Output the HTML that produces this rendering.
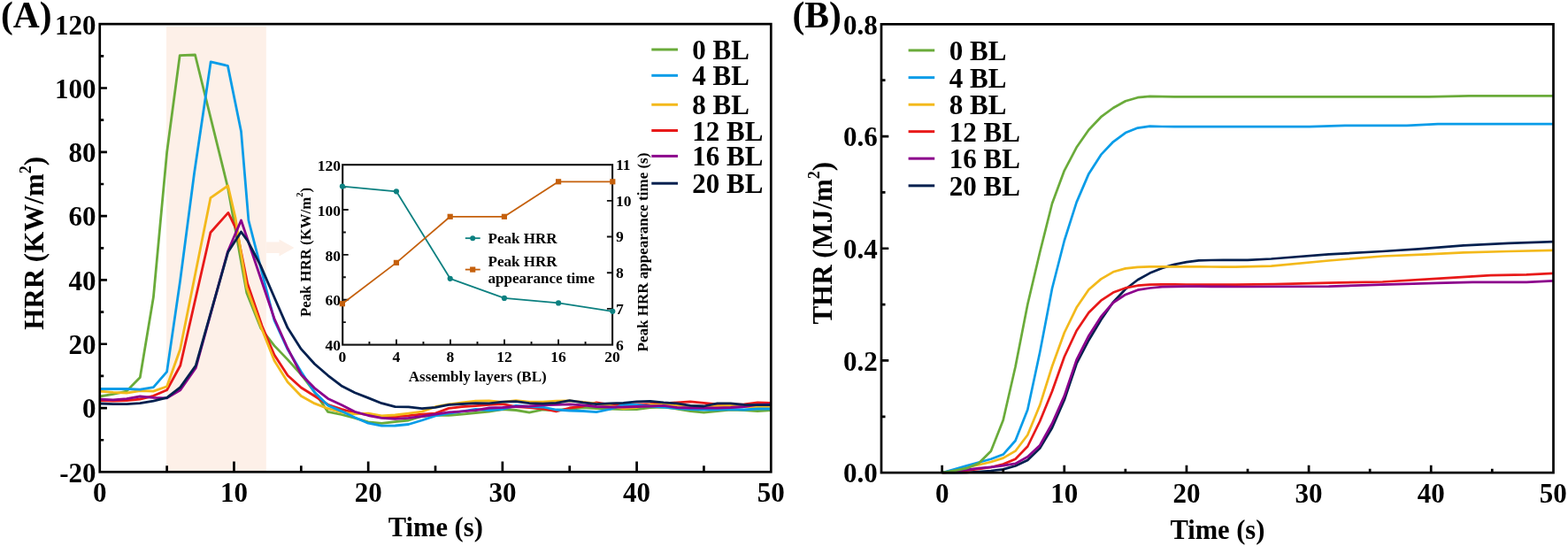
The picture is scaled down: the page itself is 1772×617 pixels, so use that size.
<!DOCTYPE html>
<html><head><meta charset="utf-8"><style>
html,body{margin:0;padding:0;background:#fff;}
svg{display:block;}
</style></head><body>
<svg width="1772" height="617" viewBox="0 0 1772 617" font-family='"Liberation Serif", "Times New Roman", serif' font-weight="bold">
<rect width="1772" height="617" fill="#fff"/>
<rect x="188" y="29.5" width="112.8" height="503.9" fill="#FDF0E8"/>
<polygon points="300.8,273.5 315.5,273.5 315.5,270.5 332.5,280 315.5,289.5 315.5,286 300.8,286" fill="#FDF0E8"/>
<polyline points="112.8,448.0 127.9,445.3 143.1,442.1 158.3,426.6 173.4,335.8 188.6,172.3 203.2,62.6 220.5,62.0 257.5,212.0 278.8,331.0 294.8,371.0 310.0,390.6 325.1,406.4 340.3,423.2 355.5,443.2 370.6,465.4 385.8,468.5 401.0,472.4 416.1,476.9 431.3,478.4 446.5,476.7 461.7,475.0 476.8,470.5 492.0,469.0 507.2,469.3 522.3,468.2 537.5,466.5 552.7,465.0 567.9,462.5 583.0,463.5 598.2,466.1 613.4,463.0 628.5,463.5 643.7,462.5 658.9,460.5 674.0,461.5 689.2,462.0 704.4,462.5 719.5,462.5 734.7,460.5 749.9,460.0 765.1,462.0 780.2,464.5 795.4,466.1 810.6,464.5 825.7,463.0 840.9,463.5 856.1,464.5 871.3,463.5" fill="none" stroke="#6AAB3A" stroke-width="2.8" stroke-linejoin="round"/>
<polyline points="112.8,452.5 127.9,453.2 143.1,452.5 158.3,451.2 173.4,447.3 188.6,440.8 203.8,413.0 237.9,262.7 257.9,240.4 267.5,260.0 279.7,320.5 296.0,368.0 310.0,401.1 325.1,424.3 340.3,438.0 355.5,447.5 370.6,457.2 385.8,462.4 401.0,466.6 416.1,468.5 431.3,471.0 446.5,470.8 461.7,469.7 476.8,468.2 492.0,467.1 507.2,461.4 522.3,459.7 537.5,458.6 552.7,457.4 567.9,456.6 583.0,459.5 598.2,460.5 613.4,462.0 628.5,465.0 643.7,461.0 658.9,459.0 674.0,454.9 689.2,457.4 704.4,457.6 719.5,456.9 734.7,456.6 749.9,455.9 765.1,454.9 780.2,453.9 795.4,455.4 810.6,456.9 825.7,457.4 840.9,456.9 856.1,454.9 871.3,455.4" fill="none" stroke="#E81919" stroke-width="2.8" stroke-linejoin="round"/>
<polyline points="112.8,442.1 127.9,443.4 143.1,444.1 158.3,441.5 173.4,442.1 188.6,436.7 203.6,394.8 237.9,223.7 257.6,209.8 266.0,246.0 278.6,324.5 294.8,368.9 310.0,407.4 325.1,431.7 340.3,447.5 355.5,455.9 370.6,461.7 385.8,465.9 401.0,467.9 416.1,467.2 431.3,469.9 446.5,469.0 461.7,467.1 476.8,465.1 492.0,459.7 507.2,456.9 522.3,454.9 537.5,453.1 552.7,452.9 567.9,454.4 583.0,452.6 598.2,454.2 613.4,454.2 628.5,453.2 643.7,452.9 658.9,454.4 674.0,456.2 689.2,458.4 704.4,461.8 719.5,460.5 734.7,457.5 749.9,457.5 765.1,458.0 780.2,458.6 795.4,459.5 810.6,459.0 825.7,458.4 840.9,459.5 856.1,460.0 871.3,460.0" fill="none" stroke="#F3B91B" stroke-width="2.8" stroke-linejoin="round"/>
<polyline points="112.8,439.5 127.9,439.5 143.1,439.5 158.3,440.2 173.4,437.6 188.6,420.1 203.5,318.0 219.5,196.0 238.2,69.8 257.4,74.4 272.5,148.5 280.9,249.0 310.0,362.0 325.1,394.8 340.3,420.0 355.5,443.2 370.6,458.1 385.8,464.6 401.0,471.8 416.1,478.2 431.3,481.2 446.5,481.0 461.7,479.5 476.8,475.0 492.0,469.9 507.2,467.1 522.3,464.8 537.5,462.5 552.7,463.5 567.9,462.5 583.0,458.4 598.2,459.5 613.4,460.0 628.5,463.0 643.7,464.0 658.9,464.5 674.0,465.6 689.2,462.5 704.4,457.4 719.5,457.4 734.7,459.0 749.9,460.0 765.1,461.5 780.2,462.5 795.4,463.0 810.6,463.0 825.7,462.5 840.9,463.0 856.1,462.0 871.3,462.0" fill="none" stroke="#089CE8" stroke-width="2.8" stroke-linejoin="round"/>
<polyline points="112.8,451.2 127.9,451.9 143.1,450.6 158.3,448.0 173.4,449.3 188.6,449.9 203.8,440.8 221.3,415.6 257.6,283.7 272.5,249.0 310.0,360.0 325.1,393.7 340.3,423.2 355.5,438.6 370.6,450.4 385.8,457.5 401.0,465.3 416.1,469.5 431.3,472.4 446.5,473.3 461.7,472.4 476.8,470.5 492.0,468.2 507.2,465.9 522.3,464.8 537.5,463.7 552.7,461.0 567.9,460.5 583.0,459.5 598.2,459.0 613.4,457.9 628.5,457.4 643.7,456.9 658.9,457.9 674.0,459.5 689.2,460.0 704.4,460.2 719.5,459.5 734.7,459.0 749.9,458.4 765.1,460.5 780.2,461.0 795.4,461.0 810.6,461.0 825.7,460.5 840.9,459.5 856.1,457.4 871.3,456.9" fill="none" stroke="#8C008C" stroke-width="2.8" stroke-linejoin="round"/>
<polyline points="112.8,456.0 127.9,456.7 143.1,456.7 158.3,455.7 173.4,453.2 188.6,449.3 203.8,437.6 221.3,413.0 257.6,285.0 272.5,262.0 279.7,271.8 294.5,300.1 310.0,336.0 325.1,370.6 340.3,394.4 355.5,411.2 370.6,424.3 385.8,435.9 401.0,443.7 416.1,449.6 431.3,455.7 446.5,459.7 461.7,459.9 476.8,461.7 492.0,460.3 507.2,457.4 522.3,456.5 537.5,455.7 552.7,455.9 567.9,454.2 583.0,453.6 598.2,455.6 613.4,456.2 628.5,455.4 643.7,452.6 658.9,454.9 674.0,456.6 689.2,455.9 704.4,455.4 719.5,453.9 734.7,453.4 749.9,454.9 765.1,455.9 780.2,458.4 795.4,459.0 810.6,455.9 825.7,455.9 840.9,457.4 856.1,457.6 871.3,457.6" fill="none" stroke="#03204F" stroke-width="2.8" stroke-linejoin="round"/>
<rect x="112.75" y="27.15" width="758.55" height="506.15" fill="none" stroke="#000" stroke-width="2.7"/>
<path d="M112.75,497.24h4.5 M112.75,461.09h8.2 M112.75,424.93h4.5 M112.75,388.77h8.2 M112.75,352.61h4.5 M112.75,316.46h8.2 M112.75,280.30h4.5 M112.75,244.14h8.2 M112.75,207.99h4.5 M112.75,171.83h8.2 M112.75,135.67h4.5 M112.75,99.51h8.2 M112.75,63.36h4.5 M188.61,533.3v-7 M264.46,533.3v-11.8 M340.31,533.3v-7 M416.17,533.3v-11.8 M492.02,533.3v-7 M567.88,533.3v-11.8 M643.74,533.3v-7 M719.59,533.3v-11.8 M795.45,533.3v-7" stroke="#000" stroke-width="2.7" fill="none"/>
<text x="108.6" y="544.70" font-size="31" text-anchor="end" >-20</text>
<text x="108.6" y="472.39" font-size="31" text-anchor="end" >0</text>
<text x="108.6" y="400.07" font-size="31" text-anchor="end" >20</text>
<text x="108.6" y="327.76" font-size="31" text-anchor="end" >40</text>
<text x="108.6" y="255.44" font-size="31" text-anchor="end" >60</text>
<text x="108.6" y="183.13" font-size="31" text-anchor="end" >80</text>
<text x="108.6" y="110.81" font-size="31" text-anchor="end" >100</text>
<text x="108.6" y="38.50" font-size="31" text-anchor="end" >120</text>
<text x="112.75" y="566.7" font-size="31" text-anchor="middle" >0</text>
<text x="264.46" y="566.7" font-size="31" text-anchor="middle" >10</text>
<text x="416.17" y="566.7" font-size="31" text-anchor="middle" >20</text>
<text x="567.88" y="566.7" font-size="31" text-anchor="middle" >30</text>
<text x="719.59" y="566.7" font-size="31" text-anchor="middle" >40</text>
<text x="871.30" y="566.7" font-size="31" text-anchor="middle" >50</text>
<text x="492.3" y="606.4" font-size="30.5" text-anchor="middle" >Time (s)</text>
<text transform="translate(49.2,274.85) rotate(-90)" font-size="31" text-anchor="middle">HRR (KW/m<tspan dy="-14.5" font-size="18">2</tspan><tspan dy="14.5">)</tspan></text>
<text x="1.0" y="30.6" font-size="41.5" text-anchor="start" >(A)</text>
<polyline points="1064.7,534.2 1078.5,534.1 1092.3,533.8 1106.1,533.0 1119.9,532.0 1133.7,530.4 1147.5,526.5 1161.3,520.0 1175.2,506.5 1189.0,483.5 1202.8,452.0 1216.6,411.0 1230.4,384.5 1244.2,361.5 1258.0,341.5 1271.9,326.8 1285.7,316.3 1299.5,308.6 1313.3,302.9 1327.1,298.9 1340.9,296.1 1354.7,294.4 1368.6,294.0 1382.4,293.8 1396.2,293.8 1410.0,293.9 1436.6,292.5 1501.6,287.4 1562.5,284.0 1603.2,281.3 1654.0,277.3 1704.7,274.8 1755.5,273.2" fill="none" stroke="#03204F" stroke-width="2.7" stroke-linejoin="round"/>
<polyline points="1064.7,534.2 1078.5,532.9 1092.3,531.6 1106.1,530.0 1119.9,528.0 1133.7,524.5 1147.5,518.7 1161.3,504.5 1175.2,476.0 1189.0,442.2 1202.8,403.3 1216.6,373.7 1230.4,353.3 1244.2,339.7 1258.0,330.6 1271.9,325.4 1285.7,322.7 1299.5,321.6 1313.3,321.4 1327.1,321.4 1340.9,321.5 1354.7,321.6 1368.6,321.7 1382.4,321.7 1396.2,321.7 1440.6,321.2 1501.6,319.6 1562.5,318.5 1623.5,314.9 1684.4,311.2 1725.1,310.4 1755.5,308.8" fill="none" stroke="#E81919" stroke-width="2.7" stroke-linejoin="round"/>
<polyline points="1064.7,534.2 1078.5,532.5 1092.3,530.8 1106.1,529.2 1119.9,527.8 1133.7,526.2 1147.5,523.9 1161.3,516.2 1175.2,503.2 1189.0,478.5 1202.8,447.4 1216.6,406.6 1230.4,379.4 1244.2,357.9 1258.0,342.0 1271.9,332.9 1285.7,327.7 1299.5,325.5 1313.3,324.2 1327.1,323.8 1340.9,323.7 1354.7,323.7 1368.6,323.8 1382.4,323.9 1396.2,324.0 1410.0,324.0 1501.6,323.6 1562.5,321.6 1623.5,319.9 1664.1,318.9 1725.1,318.9 1755.5,317.3" fill="none" stroke="#8C008C" stroke-width="2.7" stroke-linejoin="round"/>
<polyline points="1064.7,534.2 1078.5,531.2 1092.3,528.2 1106.1,525.2 1119.9,522.0 1133.7,517.6 1147.5,509.7 1161.3,491.5 1175.2,457.8 1189.0,414.0 1202.8,376.0 1216.6,347.6 1230.4,327.2 1244.2,315.4 1258.0,307.3 1271.9,303.4 1285.7,301.8 1299.5,301.4 1313.3,301.3 1327.1,301.3 1340.9,301.3 1354.7,301.4 1368.6,301.5 1382.4,301.6 1396.2,301.6 1436.6,300.6 1501.6,294.5 1562.5,289.5 1613.3,287.4 1654.0,285.4 1704.7,284.0 1755.5,282.8" fill="none" stroke="#F3B91B" stroke-width="2.7" stroke-linejoin="round"/>
<polyline points="1064.7,534.2 1078.5,530.3 1092.3,526.4 1106.1,522.5 1119.9,518.8 1133.7,513.6 1147.5,498.0 1161.3,463.0 1175.2,398.0 1189.0,326.0 1202.8,272.0 1216.6,228.6 1230.4,196.4 1244.2,174.9 1258.0,160.3 1271.9,150.1 1285.7,144.6 1299.5,142.7 1313.3,143.0 1327.1,143.2 1480.0,143.2 1520.0,141.8 1590.0,141.8 1625.0,140.2 1755.5,140.2" fill="none" stroke="#089CE8" stroke-width="2.7" stroke-linejoin="round"/>
<polyline points="1064.7,534.2 1078.5,531.8 1092.3,529.2 1106.1,523.5 1119.9,509.7 1133.7,474.7 1147.5,414.5 1161.3,344.0 1175.2,285.0 1189.0,230.0 1202.8,192.8 1216.6,166.6 1230.4,146.8 1244.2,132.2 1258.0,122.0 1271.9,114.3 1285.7,110.2 1299.5,108.8 1313.3,109.2 1327.1,109.3 1400.0,109.3 1615.0,109.3 1660.0,108.3 1755.5,108.3" fill="none" stroke="#6AAB3A" stroke-width="2.7" stroke-linejoin="round"/>
<line x1="736.3" y1="56.00" x2="766" y2="56.00" stroke="#6AAB3A" stroke-width="3"/>
<text x="782.3" y="67.00" font-size="31" text-anchor="start" >0 BL</text>
<line x1="736.3" y1="85.30" x2="766" y2="85.30" stroke="#089CE8" stroke-width="3"/>
<text x="782.3" y="96.30" font-size="31" text-anchor="start" >4 BL</text>
<line x1="736.3" y1="118.25" x2="766" y2="118.25" stroke="#F3B91B" stroke-width="3"/>
<text x="782.3" y="129.25" font-size="31" text-anchor="start" >8 BL</text>
<line x1="736.3" y1="147.50" x2="766" y2="147.50" stroke="#E81919" stroke-width="3"/>
<text x="782.3" y="158.50" font-size="31" text-anchor="start" >12 BL</text>
<line x1="736.3" y1="176.40" x2="766" y2="176.40" stroke="#8C008C" stroke-width="3"/>
<text x="782.3" y="187.40" font-size="31" text-anchor="start" >16 BL</text>
<line x1="736.3" y1="207.20" x2="766" y2="207.20" stroke="#03204F" stroke-width="3"/>
<text x="782.3" y="218.20" font-size="31" text-anchor="start" >20 BL</text>
<rect x="387.2" y="186.2" width="304.90" height="203.40" fill="none" stroke="#111" stroke-width="2.1"/>
<path d="M387.2,364.17h3.6 M387.2,338.75h6.5 M387.2,313.32h3.6 M387.2,287.90h6.5 M387.2,262.48h3.6 M387.2,237.05h6.5 M387.2,211.62h3.6 M692.1,348.92h-6.2 M692.1,308.24h-6.2 M692.1,267.56h-6.2 M692.1,226.88h-6.2 M417.42,389.6v-3.6 M447.94,389.6v-6.2 M478.46,389.6v-3.6 M508.98,389.6v-6.2 M539.50,389.6v-3.6 M570.02,389.6v-6.2 M600.54,389.6v-3.6 M631.06,389.6v-6.2 M661.58,389.6v-3.6" stroke="#111" stroke-width="1.9" fill="none"/>
<text x="385.1" y="396.30" font-size="17.5" text-anchor="end" >40</text>
<text x="385.1" y="345.45" font-size="17.5" text-anchor="end" >60</text>
<text x="385.1" y="294.60" font-size="17.5" text-anchor="end" >80</text>
<text x="385.1" y="243.75" font-size="17.5" text-anchor="end" >100</text>
<text x="385.1" y="192.90" font-size="17.5" text-anchor="end" >120</text>
<text x="695.9" y="395.50" font-size="17.5" text-anchor="start" >6</text>
<text x="695.9" y="354.82" font-size="17.5" text-anchor="start" >7</text>
<text x="695.9" y="314.14" font-size="17.5" text-anchor="start" >8</text>
<text x="695.9" y="273.46" font-size="17.5" text-anchor="start" >9</text>
<text x="695.9" y="232.78" font-size="17.5" text-anchor="start" >10</text>
<text x="695.9" y="192.10" font-size="17.5" text-anchor="start" >11</text>
<text x="386.90" y="408.6" font-size="17.5" text-anchor="middle" >0</text>
<text x="447.94" y="408.6" font-size="17.5" text-anchor="middle" >4</text>
<text x="508.98" y="408.6" font-size="17.5" text-anchor="middle" >8</text>
<text x="570.02" y="408.6" font-size="17.5" text-anchor="middle" >12</text>
<text x="631.06" y="408.6" font-size="17.5" text-anchor="middle" >16</text>
<text x="692.10" y="408.6" font-size="17.5" text-anchor="middle" >20</text>
<text x="539.75" y="431" font-size="17" text-anchor="middle" >Assembly layers (BL)</text>
<text transform="translate(350.7,285) rotate(-90)" font-size="16.8" text-anchor="middle">Peak HRR (KW/m<tspan dy="-8.5" font-size="10.5">2</tspan><tspan dy="8.5">)</tspan></text>
<text transform="translate(731.8,285) rotate(-90)" font-size="17" text-anchor="middle">Peak HRR appearance time (s)</text>
<polyline points="386.9,210.6 447.9,216.3 508.7,314.8 569.9,336.9 631.1,342.4 692.3,351.8" fill="none" stroke="#0C8080" stroke-width="1.8" stroke-linejoin="round"/>
<polyline points="386.9,343.2 447.9,296.9 508.7,244.8 569.9,244.8 631.1,205.3 692.3,205.3" fill="none" stroke="#C5600C" stroke-width="1.8" stroke-linejoin="round"/>
<circle cx="386.9" cy="210.6" r="3.1" fill="#0C8080"/>
<circle cx="447.9" cy="216.3" r="3.1" fill="#0C8080"/>
<circle cx="508.7" cy="314.8" r="3.1" fill="#0C8080"/>
<circle cx="569.9" cy="336.9" r="3.1" fill="#0C8080"/>
<circle cx="631.1" cy="342.4" r="3.1" fill="#0C8080"/>
<circle cx="692.3" cy="351.8" r="3.1" fill="#0C8080"/>
<rect x="383.80" y="340.10" width="6.2" height="6.2" fill="#C5600C"/>
<rect x="444.80" y="293.75" width="6.2" height="6.2" fill="#C5600C"/>
<rect x="505.60" y="241.70" width="6.2" height="6.2" fill="#C5600C"/>
<rect x="566.80" y="241.70" width="6.2" height="6.2" fill="#C5600C"/>
<rect x="628.00" y="202.20" width="6.2" height="6.2" fill="#C5600C"/>
<rect x="689.20" y="202.20" width="6.2" height="6.2" fill="#C5600C"/>
<line x1="525.8" y1="269.2" x2="542.7" y2="269.2" stroke="#0C8080" stroke-width="1.8"/>
<circle cx="534.2" cy="269.2" r="3" fill="#0C8080"/>
<line x1="525.8" y1="304.6" x2="542.7" y2="304.6" stroke="#C5600C" stroke-width="1.8"/>
<rect x="531.1" y="301.5" width="6.2" height="6.2" fill="#C5600C"/>
<text x="551.6" y="274.9" font-size="17" text-anchor="start" >Peak HRR</text>
<text x="551.6" y="300.6" font-size="17" text-anchor="start" >Peak HRR</text>
<text x="551.6" y="320" font-size="17" text-anchor="start" >appearance time</text>
<rect x="996.0" y="27.35" width="759.50" height="506.80" fill="none" stroke="#000" stroke-width="2.7"/>
<path d="M996.0,470.80h4.5 M996.0,407.45h8.3 M996.0,344.10h4.5 M996.0,280.75h8.3 M996.0,217.40h4.5 M996.0,154.05h8.3 M996.0,90.70h4.5 M1064.65,534.15v-8.3 M1133.72,534.15v-4.5 M1202.79,534.15v-8.3 M1271.86,534.15v-4.5 M1340.93,534.15v-8.3 M1410.00,534.15v-4.5 M1479.07,534.15v-8.3 M1548.14,534.15v-4.5 M1617.21,534.15v-8.3 M1686.28,534.15v-4.5" stroke="#000" stroke-width="2.7" fill="none"/>
<text x="991.8" y="545.45" font-size="31" text-anchor="end" >0.0</text>
<text x="991.8" y="418.75" font-size="31" text-anchor="end" >0.2</text>
<text x="991.8" y="292.05" font-size="31" text-anchor="end" >0.4</text>
<text x="991.8" y="165.35" font-size="31" text-anchor="end" >0.6</text>
<text x="991.8" y="38.65" font-size="31" text-anchor="end" >0.8</text>
<text x="1064.65" y="567.8" font-size="31" text-anchor="middle" >0</text>
<text x="1202.79" y="567.8" font-size="31" text-anchor="middle" >10</text>
<text x="1340.93" y="567.8" font-size="31" text-anchor="middle" >20</text>
<text x="1479.07" y="567.8" font-size="31" text-anchor="middle" >30</text>
<text x="1617.21" y="567.8" font-size="31" text-anchor="middle" >40</text>
<text x="1755.35" y="567.8" font-size="31" text-anchor="middle" >50</text>
<text x="1375.9" y="608.6" font-size="30.5" text-anchor="middle" >Time (s)</text>
<text transform="translate(940.2,274.7) rotate(-90)" font-size="31" text-anchor="middle">THR (MJ/m<tspan dy="-14.5" font-size="18">2</tspan><tspan dy="14.5">)</tspan></text>
<text x="895.5" y="30.8" font-size="41.5" text-anchor="start" >(B)</text>
<line x1="1026.6" y1="56.90" x2="1056.2" y2="56.90" stroke="#6AAB3A" stroke-width="3"/>
<text x="1072.8" y="68.10" font-size="31" text-anchor="start" >0 BL</text>
<line x1="1026.6" y1="87.65" x2="1056.2" y2="87.65" stroke="#089CE8" stroke-width="3"/>
<text x="1072.8" y="98.85" font-size="31" text-anchor="start" >4 BL</text>
<line x1="1026.6" y1="118.20" x2="1056.2" y2="118.20" stroke="#F3B91B" stroke-width="3"/>
<text x="1072.8" y="129.40" font-size="31" text-anchor="start" >8 BL</text>
<line x1="1026.6" y1="148.65" x2="1056.2" y2="148.65" stroke="#E81919" stroke-width="3"/>
<text x="1072.8" y="159.85" font-size="31" text-anchor="start" >12 BL</text>
<line x1="1026.6" y1="179.15" x2="1056.2" y2="179.15" stroke="#8C008C" stroke-width="3"/>
<text x="1072.8" y="190.35" font-size="31" text-anchor="start" >16 BL</text>
<line x1="1026.6" y1="209.85" x2="1056.2" y2="209.85" stroke="#03204F" stroke-width="3"/>
<text x="1072.8" y="221.05" font-size="31" text-anchor="start" >20 BL</text>
</svg>
</body></html>
